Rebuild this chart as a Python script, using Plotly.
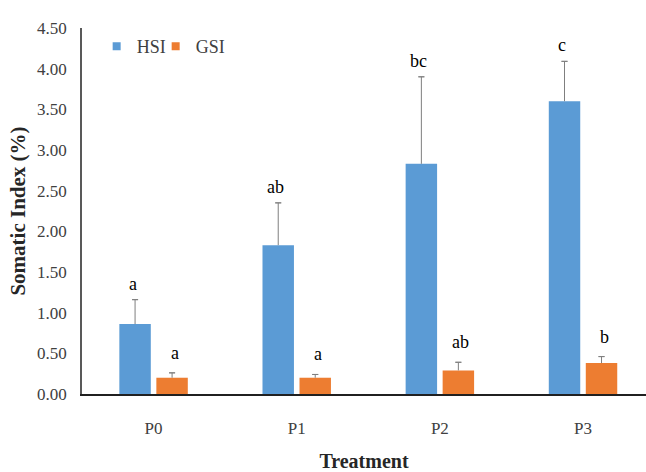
import plotly.graph_objects as go

categories = ["P0", "P1", "P2", "P3"]
hsi = [0.86, 1.83, 2.83, 3.60]
hsi_err = [0.30, 0.52, 1.07, 0.49]
gsi = [0.20, 0.20, 0.29, 0.38]
gsi_err = [0.06, 0.04, 0.10, 0.08]
hsi_letters = ["a", "ab", "bc", "c"]
gsi_letters = ["a", "a", "ab", "b"]
yticks = [0, 0.5, 1, 1.5, 2, 2.5, 3, 3.5, 4, 4.5]

BLUE = "#5B9BD5"
ORANGE = "#ED7D31"
ERR = "#7f7f7f"
FONT = "Liberation Serif"

hsi_top = [v + e for v, e in zip(hsi, hsi_err)]
gsi_top = [v + e for v, e in zip(gsi, gsi_err)]

fig = go.Figure()
# main bars with the vertical (upper) error line, no caps
fig.add_trace(go.Bar(
    x=categories, y=hsi, name="HSI", marker=dict(color=BLUE, line=dict(width=0)),
    showlegend=False, offsetgroup="hsi",
    error_y=dict(type="data", symmetric=False, array=hsi_err,
                 arrayminus=[0] * 4, color=ERR, thickness=1, width=0),
))
fig.add_trace(go.Bar(
    x=categories, y=gsi, name="GSI", marker=dict(color=ORANGE, line=dict(width=0)),
    showlegend=False, offsetgroup="gsi",
    error_y=dict(type="data", symmetric=False, array=gsi_err,
                 arrayminus=[0] * 4, color=ERR, thickness=1, width=0),
))
# invisible bars only used to draw the cap at the top of each error bar
fig.add_trace(go.Bar(
    x=categories, y=hsi_top, marker=dict(color="rgba(0,0,0,0)", line=dict(width=0)),
    showlegend=False, offsetgroup="hsi", hoverinfo="skip",
    error_y=dict(type="data", array=[0] * 4, color=ERR, thickness=1, width=3),
))
fig.add_trace(go.Bar(
    x=categories, y=gsi_top, marker=dict(color="rgba(0,0,0,0)", line=dict(width=0)),
    showlegend=False, offsetgroup="gsi", hoverinfo="skip",
    error_y=dict(type="data", array=[0] * 4, color=ERR, thickness=1, width=3),
))
# legend proxies
fig.add_trace(go.Scatter(x=[None], y=[None], mode="markers", name="HSI",
                         marker=dict(symbol="square", size=8, color=BLUE)))
fig.add_trace(go.Scatter(x=[None], y=[None], mode="markers", name="GSI",
                         marker=dict(symbol="square", size=8, color=ORANGE)))
# empty spacer entry so the last legend label is not clipped
fig.add_trace(go.Scatter(x=[None], y=[None], mode="markers", name=" ",
                         marker=dict(symbol="square", size=8, color="rgba(0,0,0,0)"),
                         hoverinfo="skip"))

annotations = []
for i, c in enumerate(categories):
    annotations.append(dict(x=c, xshift=-21, y=hsi_top[i], text=hsi_letters[i],
                            showarrow=False, yanchor="bottom", yshift=4,
                            font=dict(family=FONT, size=18, color="#000000")))
    annotations.append(dict(x=c, xshift=21, y=gsi_top[i], text=gsi_letters[i],
                            showarrow=False, yanchor="bottom", yshift=8,
                            font=dict(family=FONT, size=18, color="#000000")))

fig.update_layout(
    width=646, height=472,
    margin=dict(l=82, r=0, t=28, b=74),
    paper_bgcolor="white", plot_bgcolor="white",
    barmode="group", bargap=0.483, bargroupgap=0.15,
    font=dict(family=FONT, size=17, color="#404040"),
    legend=dict(orientation="h", x=0.026, y=1.0, xanchor="left", yanchor="top",
                font=dict(family=FONT, size=18, color="#404040"),
                itemwidth=30, entrywidth=14, entrywidthmode="pixels",
                tracegroupgap=0, bgcolor="rgba(0,0,0,0)"),
    annotations=annotations,
    xaxis=dict(range=[-0.5, 3.44], showline=True, linecolor="#202020", linewidth=1.5,
               ticks="", ticklabelstandoff=18,
               tickfont=dict(family=FONT, size=17, color="#404040"),
               title=dict(text="<b>Treatment</b>", standoff=20,
                          font=dict(family=FONT, size=20, color="#262626"))),
    yaxis=dict(range=[0, 4.5], tickvals=yticks, tickformat=".2f",
               showgrid=False, zeroline=False, showline=True,
               linecolor="#595959", linewidth=1.5, ticks="",
               ticklabelstandoff=10,
               tickfont=dict(family=FONT, size=17, color="#404040"),
               title=dict(text="<b>Somatic Index (%)</b>", standoff=6,
                          font=dict(family=FONT, size=21, color="#262626"))),
)

fig.write_html("out.html")
